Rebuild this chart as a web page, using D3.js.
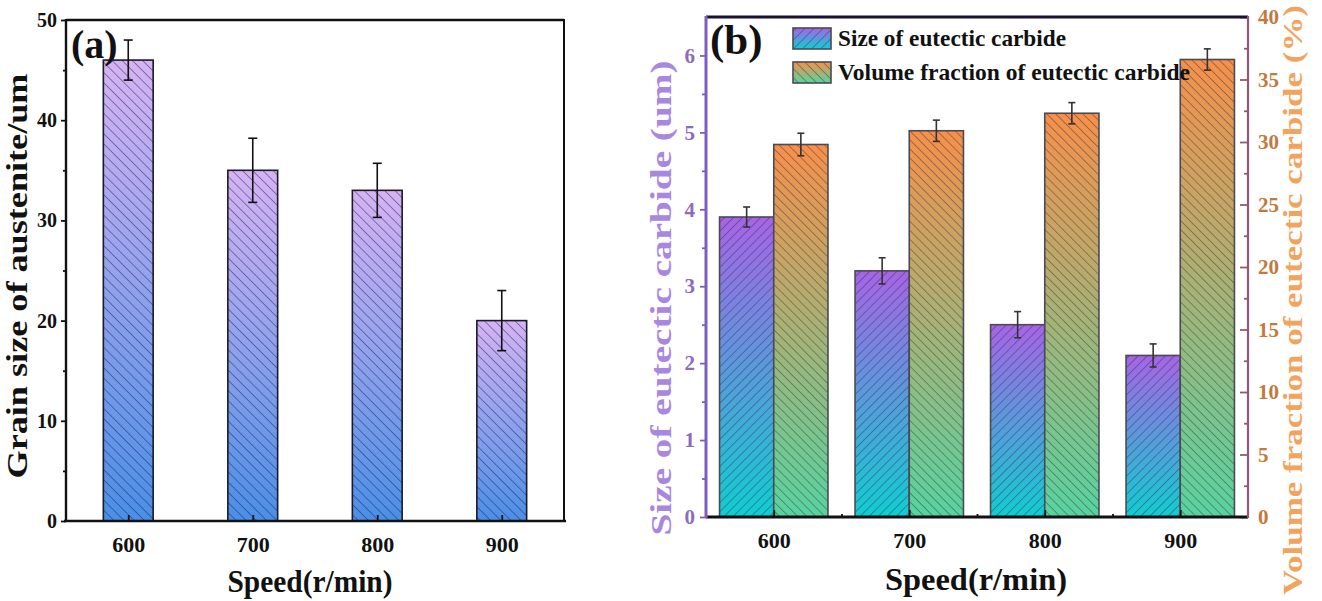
<!DOCTYPE html>
<html>
<head>
<meta charset="utf-8">
<script src="https://cdn.jsdelivr.net/npm/d3@7"></script>
<style>
  body { margin: 0; background: #fff; }
  text { font-family: "Liberation Serif", "Times New Roman", serif; font-weight: bold; }
</style>
</head>
<body>
<svg width="1322" height="601"></svg>
<script>
// data
var speeds = [600, 700, 800, 900];
var grainSize = [46, 35, 33, 20];
var grainErr = [2.0, 3.2, 2.7, 3.0];
var carbideSize = [3.9, 3.2, 2.5, 2.1];
var carbideErr = [0.13, 0.17, 0.17, 0.15];
var volumeFraction = [29.8, 30.9, 32.3, 36.6];
var volumeErr = [0.9, 0.85, 0.85, 0.85];

var grainTicks = [0, 10, 20, 30, 40, 50];
var grainMinor = [5, 15, 25, 35, 45];
var sizeTicks = [0, 1, 2, 3, 4, 5, 6];
var sizeMinor = [0.5, 1.5, 2.5, 3.5, 4.5, 5.5];
var volumeTicks = [0, 5, 10, 15, 20, 25, 30, 35, 40];
var volumeMinor = [2.5, 7.5, 12.5, 17.5, 22.5, 27.5, 32.5, 37.5];
var speedMinor = [650, 750, 850];

var legendNames = ['Size of eutectic carbide', 'Volume fraction of eutectic carbide'];

var svg = d3.select('svg');
var defs = svg.append('defs');
var fmt = d3.format('d');

function gradient(id, top, bottom){
  var g = defs.append('linearGradient').attr('id', id)
    .attr('x1', 0).attr('y1', 0).attr('x2', 0).attr('y2', 1);
  g.append('stop').attr('offset', '0%').attr('stop-color', top);
  g.append('stop').attr('offset', '100%').attr('stop-color', bottom);
}

// angle 45 gives "/", -45 gives "\"
function hatch(id, angle, gap, color){
  var p = defs.append('pattern').attr('id', id)
    .attr('patternUnits', 'userSpaceOnUse')
    .attr('width', gap).attr('height', gap)
    .attr('patternTransform', 'rotate(' + angle + ')');
  p.append('line').attr('x1', 0).attr('y1', 0).attr('x2', 0).attr('y2', gap)
    .attr('stroke', color).attr('stroke-width', 1.2);
}

gradient('gA', '#d6b3f3', '#4a8fe6');
gradient('gSize', '#a764e6', '#10cdd2');
gradient('gVol', '#f7904a', '#58d3a0');
hatch('hA', -45, 7.2, 'rgba(25,30,80,0.75)');
hatch('hSize', 45, 6.4, 'rgba(40,40,60,0.65)');
hatch('hVol', -45, 6.4, 'rgba(40,40,60,0.65)');

function bar(g, x, y, w, h, grad, pat, stroke){
  g.append('rect').attr('x', x).attr('y', y).attr('width', w).attr('height', h)
    .attr('fill', 'url(#' + grad + ')');
  g.append('rect').attr('x', x).attr('y', y).attr('width', w).attr('height', h)
    .attr('fill', 'url(#' + pat + ')').attr('stroke', stroke).attr('stroke-width', 1.6);
}

function errBar(g, cx, yTop, yBot, cap, color){
  g.append('line').attr('x1', cx).attr('x2', cx).attr('y1', yTop).attr('y2', yBot)
    .attr('stroke', color).attr('stroke-width', 1.6);
  [yTop, yBot].forEach(function(yy){
    g.append('line').attr('x1', cx - cap).attr('x2', cx + cap).attr('y1', yy).attr('y2', yy)
      .attr('stroke', color).attr('stroke-width', 1.6);
  });
}

function styleAxis(g, color, textColor, size){
  g.select('.domain').remove();
  g.selectAll('line').attr('stroke', color).attr('stroke-width', 1.8);
  g.selectAll('text').attr('fill', textColor).style('font-size', size + 'px');
}

function label(x, y, rot, txt, size, color, len){
  var t = svg.append('text')
    .attr('transform', 'translate(' + x + ',' + y + ') rotate(' + rot + ')')
    .attr('text-anchor', 'middle')
    .style('font-size', size + 'px')
    .attr('fill', color)
    .text(txt);
  if (len) t.attr('textLength', len).attr('lengthAdjust', 'spacingAndGlyphs');
  return t;
}

// ---------- panel (a) ----------
var xa = d3.scaleLinear().domain([550, 950]).range([66, 564]);
var ya = d3.scaleLinear().domain([0, 50]).range([521, 20]);
var pa = svg.append('g');

speeds.forEach(function(s, i){
  bar(pa, xa(s - 20), ya(grainSize[i]), xa(s + 20) - xa(s - 20), ya(0) - ya(grainSize[i]), 'gA', 'hA', '#1a1a2a');
});
speeds.forEach(function(s, i){
  errBar(pa, xa(s), ya(grainSize[i] + grainErr[i]), ya(grainSize[i] - grainErr[i]), 4.5, '#111');
});

pa.append('g').attr('transform', 'translate(66,0)')
  .call(d3.axisLeft(ya).tickValues(grainTicks).tickFormat(fmt).tickSize(5).tickPadding(4))
  .call(styleAxis, '#111', '#111', 20);
pa.append('g').attr('transform', 'translate(66,0)')
  .call(d3.axisLeft(ya).tickValues(grainMinor).tickSize(3).tickFormat(''))
  .call(styleAxis, '#111', '#111', 20);
pa.append('g').attr('transform', 'translate(0,521)')
  .call(d3.axisBottom(xa).tickValues(speeds).tickFormat(fmt).tickSize(-6).tickPadding(15))
  .call(styleAxis, '#111', '#111', 22);

pa.append('line').attr('x1', 66).attr('x2', 564).attr('y1', 20).attr('y2', 20).attr('stroke', '#111').attr('stroke-width', 2.6);
pa.append('line').attr('x1', 66).attr('x2', 66).attr('y1', 19).attr('y2', 522).attr('stroke', '#111').attr('stroke-width', 2.4);
pa.append('line').attr('x1', 564).attr('x2', 564).attr('y1', 19).attr('y2', 522).attr('stroke', '#111').attr('stroke-width', 2);
pa.append('line').attr('x1', 64).attr('x2', 566).attr('y1', 521).attr('y2', 521).attr('stroke', '#111').attr('stroke-width', 2.6);

svg.append('text').attr('x', 71).attr('y', 58).style('font-size', '40px').attr('fill', '#111').text('(a)');
label(27, 276, -90, 'Grain size of austenite/um', 30, '#111', 405);
label(310, 592, 0, 'Speed(r/min)', 31, '#111', 165);

// ---------- panel (b) ----------
var xb = d3.scaleLinear().domain([550, 950]).range([706, 1248]);
var yl = d3.scaleLinear().domain([0, 6.5]).range([517, 17]);
var yr = d3.scaleLinear().domain([0, 40]).range([517, 17]);
var pb = svg.append('g');

speeds.forEach(function(s, i){
  bar(pb, xb(s - 40), yl(carbideSize[i]), xb(s) - xb(s - 40), yl(0) - yl(carbideSize[i]), 'gSize', 'hSize', '#4a4a55');
  bar(pb, xb(s), yr(volumeFraction[i]), xb(s + 40) - xb(s), yr(0) - yr(volumeFraction[i]), 'gVol', 'hVol', '#4a4a55');
});
speeds.forEach(function(s, i){
  errBar(pb, xb(s - 20), yl(carbideSize[i] + carbideErr[i]), yl(carbideSize[i] - carbideErr[i]), 3.5, '#333');
  errBar(pb, xb(s + 20), yr(volumeFraction[i] + volumeErr[i]), yr(volumeFraction[i] - volumeErr[i]), 3.5, '#333');
});

pb.append('g').attr('transform', 'translate(706,0)')
  .call(d3.axisLeft(yl).tickValues(sizeTicks).tickFormat(fmt).tickSize(6).tickPadding(5))
  .call(styleAxis, '#7e5dbf', '#8c6cba', 21);
pb.append('g').attr('transform', 'translate(706,0)')
  .call(d3.axisLeft(yl).tickValues(sizeMinor).tickSize(4).tickFormat(''))
  .call(styleAxis, '#7e5dbf', '#8c6cba', 21);
pb.append('g').attr('transform', 'translate(1248,0)')
  .call(d3.axisRight(yr).tickValues(volumeTicks).tickFormat(fmt).tickSize(-8).tickPadding(10))
  .call(styleAxis, '#8f5a7a', '#c27a3c', 21);
pb.append('g').attr('transform', 'translate(1248,0)')
  .call(d3.axisRight(yr).tickValues(volumeMinor).tickSize(-4).tickFormat(''))
  .call(styleAxis, '#8f5a7a', '#c27a3c', 21);
pb.append('g').attr('transform', 'translate(0,517)')
  .call(d3.axisBottom(xb).tickValues(speeds).tickFormat(fmt).tickSize(-7).tickPadding(15))
  .call(styleAxis, '#111', '#111', 22);
pb.append('g').attr('transform', 'translate(0,517)')
  .call(d3.axisBottom(xb).tickValues(speedMinor).tickSize(-3).tickFormat(''))
  .call(styleAxis, '#111', '#111', 22);

pb.append('line').attr('x1', 706).attr('x2', 1248).attr('y1', 17).attr('y2', 17).attr('stroke', '#1a1030').attr('stroke-width', 3);
pb.append('line').attr('x1', 706).attr('x2', 1248).attr('y1', 517).attr('y2', 517).attr('stroke', '#111').attr('stroke-width', 3);
pb.append('line').attr('x1', 706).attr('x2', 706).attr('y1', 16).attr('y2', 518).attr('stroke', '#7e5dbf').attr('stroke-width', 3);
pb.append('line').attr('x1', 1248).attr('x2', 1248).attr('y1', 16).attr('y2', 518).attr('stroke', '#8f5a7a').attr('stroke-width', 2.2);

svg.append('text').attr('x', 710).attr('y', 54).style('font-size', '43px').attr('fill', '#111').text('(b)');

// legend
var leg = svg.append('g');
[['gSize', 'hSize'], ['gVol', 'hVol']].forEach(function(f, i){
  var y0 = 28 + i * 34;
  bar(leg, 793, y0, 38, 21, f[0], f[1], '#4a4a55');
  leg.append('text').attr('x', 838).attr('y', y0 + 18)
    .style('font-size', '23px').attr('fill', '#111')
    .attr('textLength', i === 0 ? 228 : 352).attr('lengthAdjust', 'spacingAndGlyphs')
    .text(legendNames[i]);
});

label(671, 298, -90, 'Size of eutectic carbide (um)', 29, '#a887e0', 475);
label(1302, 300, -90, 'Volume fraction of eutectic carbide (%)', 27, '#f2a35c', 590);
label(976, 590, 0, 'Speed(r/min)', 31, '#111', 182);
</script>
</body>
</html>
